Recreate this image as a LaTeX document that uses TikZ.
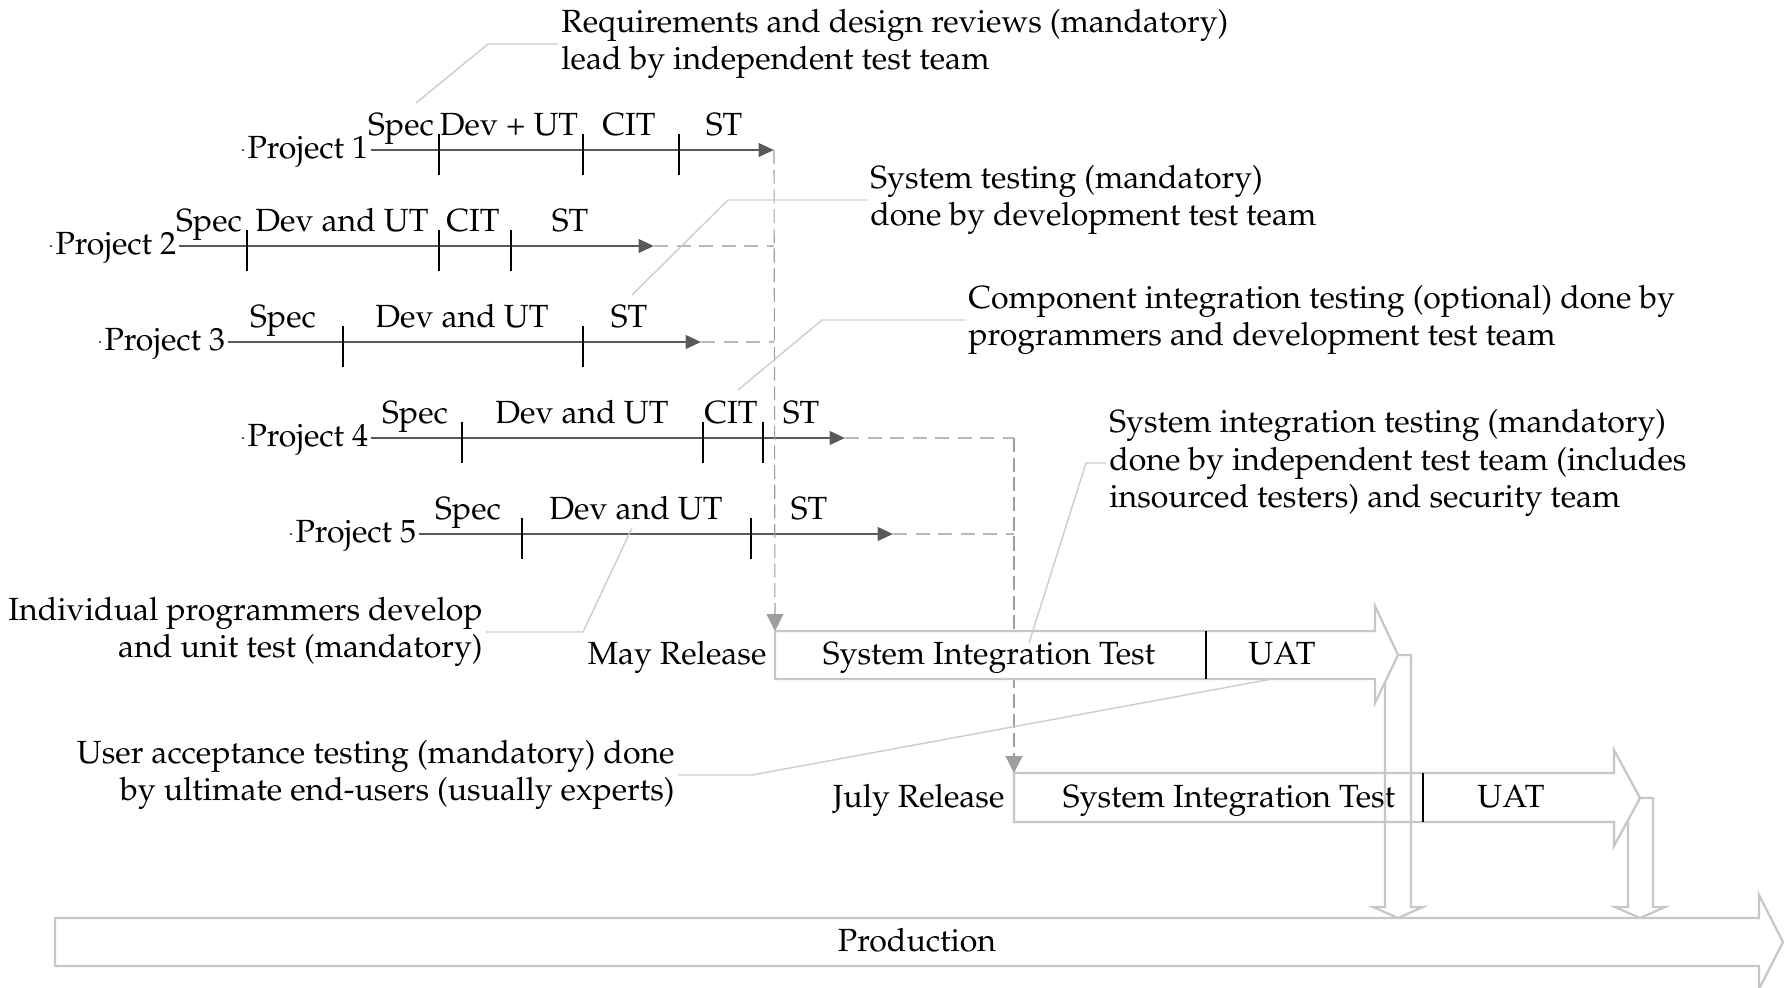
\documentclass[tikz,border=0pt]{standalone}
\usepackage[T1]{fontenc}
\usepackage{mathpazo}
\usetikzlibrary{arrows.meta,backgrounds}

\definecolor{projgray}{gray}{0.35}
\definecolor{dashgray}{gray}{0.72}
\definecolor{dropgray}{gray}{0.62}
\definecolor{leadgray}{gray}{0.8}
\definecolor{boxgray}{gray}{0.78}

\tikzset{
  projlabel/.style={anchor=base east, fill=white, inner sep=1.2pt},
  phaselabel/.style={anchor=base, inner sep=0pt},
  projline/.style={draw=projgray, line width=1pt, shorten <=-.5pt,
    -{Triangle[length=5.5pt,width=4.8pt]}},
  phasetick/.style={line width=.45pt},
  handoff/.style={draw=dashgray, line width=.8pt, dash pattern=on 5pt off 3pt},
  dropline/.style={draw=dropgray, line width=.4pt, dash pattern=on 5pt off 2pt,
    -{Triangle[length=6pt,width=6pt]}},
  leader/.style={draw=leadgray, line width=.5pt},
  note/.style={align=left, inner sep=1pt},
  release/.style={draw=boxgray, line width=.8pt, fill=white},
  divider/.style={line width=.5pt},
  boxlabel/.style={anchor=base, inner sep=0pt}
}

\begin{document}
\begin{tikzpicture}[x=0.0125cm, y=-0.0125cm, font=\fontsize{11.4pt}{13.3pt}\selectfont]
\useasboundingbox (0,0) rectangle (1791,987);

% project labels and arrow ends
\node[projlabel] (p1) at (372,158) {Project 1};
\node[projlabel] (p2) at (180,254) {Project 2};
\node[projlabel] (p3) at (229,350) {Project 3};
\node[projlabel] (p4) at (372,446) {Project 4};
\node[projlabel] (p5) at (420,542) {Project 5};
\coordinate (p1tip) at (774,150);
\coordinate (p2tip) at (654,246);
\coordinate (p3tip) at (701,342);
\coordinate (p4tip) at (845,438);
\coordinate (p5tip) at (893,534);
\coordinate (p4turn) at (1014,438);

% phases
\node[phaselabel] (p1spec) at (401,135) {Spec};
\node[phaselabel] (p1dev) at (509,135) {Dev + UT};
\node[phaselabel] (p1cit) at (629,135) {CIT};
\node[phaselabel] (p1st) at (724,135) {ST};
\node[phaselabel] (p2spec) at (209,231) {Spec};
\node[phaselabel] (p2dev) at (342,231) {Dev and UT};
\node[phaselabel] (p2cit) at (473,231) {CIT};
\node[phaselabel] (p2st) at (570,231) {ST};
\node[phaselabel] (p3spec) at (283,327) {Spec};
\node[phaselabel] (p3dev) at (462,327) {Dev and UT};
\node[phaselabel] (p3st) at (629,327) {ST};
\node[phaselabel] (p4spec) at (415,423) {Spec};
\node[phaselabel] (p4dev) at (582,423) {Dev and UT};
\node[phaselabel] (p4cit) at (731,423) {CIT};
\node[phaselabel] (p4st) at (801,423) {ST};
\node[phaselabel] (p5spec) at (468,519) {Spec};
\node[phaselabel] (p5dev) at (636,519) {Dev and UT};
\node[phaselabel] (p5st) at (809,519) {ST};

\foreach \x in {439,583,679} \draw[phasetick] (\x,134) -- (\x,175);
\foreach \x in {247,439,511} \draw[phasetick] (\x,230) -- (\x,271);
\foreach \x in {343,583} \draw[phasetick] (\x,326) -- (\x,367);
\foreach \x in {462,703,763} \draw[phasetick] (\x,422) -- (\x,463);
\foreach \x in {522,751} \draw[phasetick] (\x,518) -- (\x,559);

% releases
\coordinate (maytop) at (775,631);
\coordinate (julytop) at (1014,773);
\draw[release] (maytop) -- (1375,631) -- (1375,606) -- (1398,655) -- (1375,703)
  -- (1375,679) -- (775,679) -- cycle;
\draw[divider] (1206,631) -- (1206,679);
\node[boxlabel] (maysit) at (989,664) {System Integration Test};
\node[boxlabel] (mayuat) at (1282,664) {UAT};
\node[anchor=base east, inner sep=0pt] (may) at (767,664) {May Release};

\draw[release] (julytop) -- (1614,773) -- (1614,750) -- (1640,798) -- (1614,846)
  -- (1614,822) -- (1014,822) -- cycle;
\draw[divider] (1423,773) -- (1423,822);
\node[boxlabel] (julysit) at (1229,807) {System Integration Test};
\node[boxlabel] (julyuat) at (1511,807) {UAT};
\node[anchor=base east, inner sep=0pt] (july) at (1005,807) {July Release};

\draw[release] (55,918) -- (1759,918) -- (1759,895) -- (1783,942) -- (1759,989)
  -- (1759,966) -- (55,966) -- cycle;
\node[boxlabel] (production) at (917,951) {Production};

% into production
\draw[release, fill=none] (1398,655) -- (1411,655) -- (1411,907) -- (1423,907)
  -- (1398,918) -- (1373,907) -- (1385,907) -- (1385,683);
\draw[release, fill=none] (1640,798) -- (1653,798) -- (1653,907) -- (1665,907)
  -- (1640,918) -- (1615,907) -- (1628,907) -- (1628,822);

\begin{scope}[on background layer]
\draw[projline] (p1.west |- p1tip) -- (p1tip);
\draw[projline] (p2.west |- p2tip) -- (p2tip);
\draw[projline] (p3.west |- p3tip) -- (p3tip);
\draw[projline] (p4.west |- p4tip) -- (p4tip);
\draw[projline] (p5.west |- p5tip) -- (p5tip);
\draw[handoff] (p2tip) -- (p1tip |- p2tip);
\draw[handoff] (p3tip) -- (p1tip |- p3tip);
\draw[handoff] (p4tip) -- (p4turn);
\draw[handoff] (p5tip) -- (p4turn |- p5tip);
\draw[dropline] (p1tip) -- (maytop);
\draw[dropline] (p4turn) -- (julytop);
\end{scope}

% notes
\node[note, anchor=west] (reviews) at (558,44)
  {Requirements and design reviews (mandatory)\\lead by independent test team};
\node[note, anchor=west] (systest) at (867,200)
  {System testing (mandatory)\\done by development test team};
\node[note, anchor=west] (comptest) at (965,320)
  {Component integration testing (optional) done by\\programmers and development test team};
\node[note, anchor=west] (sittest) at (1106,463)
  {System integration testing (mandatory)\\done by independent test team (includes\\insourced testers) and security team};
\node[note, align=right, anchor=east] (unittest) at (486,632)
  {Individual programmers develop\\and unit test (mandatory)};
\node[note, align=right, anchor=east] (uattest) at (678,775)
  {User acceptance testing (mandatory) done\\by ultimate end-users (usually experts)};

\draw[leader] (reviews.west) -- (488,44) -- (416,103);
\draw[leader] (systest.west) -- (728,200) -- (632,295);
\draw[leader] (comptest.west) -- (822,320) -- (738,390);
\draw[leader] (sittest.west) -- (1086,463) -- (1029,643);
\draw[leader] (unittest.east) -- (583,632) -- (632,528);
\draw[leader] (uattest.east) -- (752,775) -- (1272,679);
\end{tikzpicture}
\end{document}
